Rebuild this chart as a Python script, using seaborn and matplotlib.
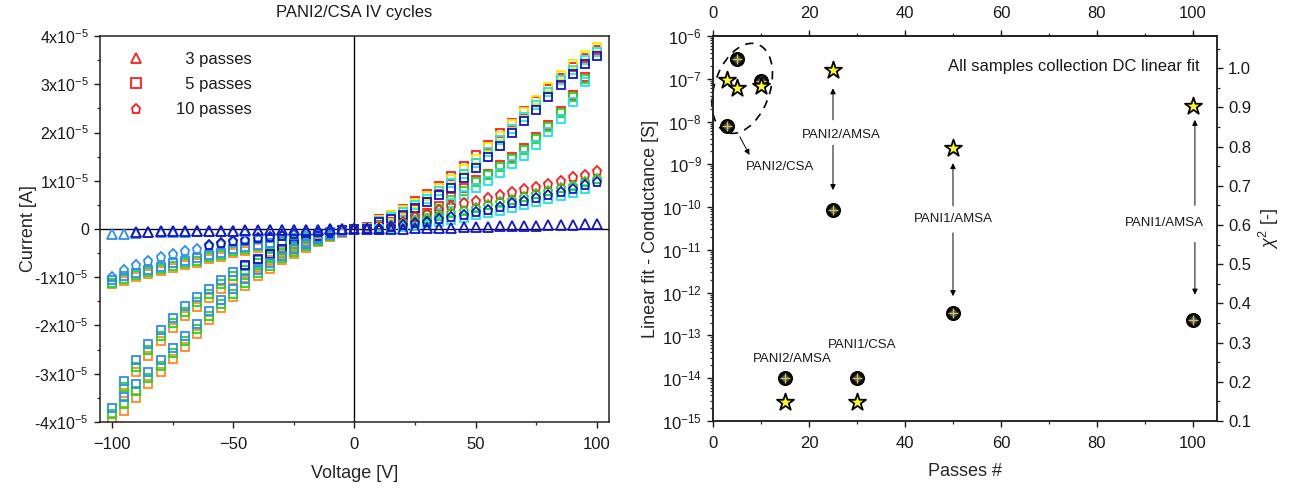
import matplotlib
matplotlib.use("Agg")
import matplotlib.pyplot as plt
import seaborn as sns
from matplotlib.lines import Line2D
from matplotlib.patches import Ellipse
from matplotlib.ticker import MultipleLocator, FuncFormatter, LogLocator, NullFormatter

# ---------------- left panel: PANI2/CSA IV cycles (current in 1e-5 A) ----------------
V_POS = [0, 5, 10, 15, 20, 25, 30, 35, 40, 45, 50, 55, 60, 65, 70, 75, 80, 85, 90, 95, 100]
V_RET = [10, 15, 20, 25, 30, 35, 40, 45, 50, 55, 60, 65, 70, 75, 80, 85, 90, 95]
V_NEG = [-100, -95, -90, -85, -80, -75, -70, -65, -60, -55, -50, -45, -40, -35, -30, -25, -20, -15, -10, -5]
V_NEG_RET = [-95, -90, -85, -80, -75, -70, -65, -60, -55, -50, -45, -40, -35, -30, -25, -20, -15, -10, -5]
V_NEG_60 = [-60, -55, -50, -45, -40, -35, -30, -25, -20, -15, -10, -5]
V_NEG_45 = [-45, -40, -35, -30, -25, -20, -15, -10, -5]
V_NEG_90 = [-90, -85, -80, -75, -70, -65, -60, -55, -50, -45, -40, -35, -30, -25, -20, -15, -10, -5]

# 5 passes, forward sweep 0 -> 100 V
sq_fwd_red = [0.0, 0.04, 0.21, 0.30, 0.42, 0.58, 0.73, 0.90, 1.10, 1.31, 1.53, 1.75, 1.98, 2.20, 2.44, 2.66, 2.91, 3.14, 3.36, 3.55, 3.72]
sq_fwd_yellow = [0.0, 0.03, 0.19, 0.28, 0.40, 0.54, 0.68, 0.85, 1.03, 1.24, 1.46, 1.70, 1.93, 2.17, 2.43, 2.68, 2.95, 3.19, 3.41, 3.61, 3.77]
sq_fwd_cyan = [0.0, 0.02, 0.17, 0.24, 0.35, 0.49, 0.62, 0.78, 0.95, 1.15, 1.37, 1.60, 1.84, 2.08, 2.33, 2.58, 2.84, 3.08, 3.30, 3.50, 3.66]
sq_fwd_blue = [0.0, 0.01, 0.15, 0.20, 0.30, 0.43, 0.55, 0.70, 0.86, 1.06, 1.27, 1.49, 1.73, 1.98, 2.24, 2.47, 2.74, 2.98, 3.21, 3.41, 3.59]
# 5 passes, return sweep 100 -> 0 V
sq_ret_red = [0.09, 0.14, 0.21, 0.27, 0.34, 0.47, 0.66, 0.84, 1.01, 1.15, 1.33, 1.50, 1.68, 1.90, 2.16, 2.44, 2.78, 3.16]
sq_ret_green = [0.07, 0.12, 0.18, 0.24, 0.30, 0.42, 0.61, 0.79, 0.97, 1.11, 1.29, 1.46, 1.64, 1.86, 2.12, 2.40, 2.73, 3.10]
sq_ret_cyan = [0.05, 0.09, 0.14, 0.18, 0.23, 0.34, 0.54, 0.70, 0.85, 0.99, 1.17, 1.34, 1.52, 1.74, 2.01, 2.29, 2.63, 3.05]
sq_low_cyan = [0.0, 0.02, 0.04, 0.07, 0.10, 0.14, 0.18, 0.23, 0.28, 0.33, 0.38, 0.44, 0.50, 0.56, 0.62, 0.68, 0.74, 0.82]
# 10 passes, positive side
pent_pos_red = [0.0, -0.01, -0.02, 0.06, 0.15, 0.24, 0.32, 0.40, 0.47, 0.53, 0.59, 0.65, 0.70, 0.76, 0.82, 0.88, 0.94, 0.99, 1.07, 1.12, 1.20]
pent_pos_green = [0.0, 0.0, 0.0, 0.05, 0.10, 0.16, 0.21, 0.27, 0.33, 0.38, 0.44, 0.49, 0.55, 0.61, 0.66, 0.73, 0.78, 0.84, 0.90, 0.97, 1.04]
pent_pos_blue = [0.0, 0.0, 0.01, 0.05, 0.08, 0.12, 0.15, 0.20, 0.25, 0.30, 0.35, 0.40, 0.46, 0.53, 0.58, 0.65, 0.70, 0.76, 0.82, 0.91, 0.98]
# 3 passes, positive side
tri_pos_blue = [0.0, 0.0, 0.0, 0.01, 0.01, 0.02, 0.02, 0.03, 0.03, 0.04, 0.05, 0.05, 0.06, 0.06, 0.07, 0.07, 0.08, 0.09, 0.09, 0.10, 0.11]

# 5 passes, negative side, first sweep 0 -> -100 V
sq_neg_orange = [-3.98, -3.40, -2.97, -2.63, -2.33, -2.06, -1.81, -1.61, -1.44, -1.24, -1.06, -0.92, -0.78, -0.65, -0.54, -0.44, -0.34, -0.25, -0.16, -0.08]
sq_neg_green = [-3.84, -3.28, -2.85, -2.51, -2.22, -1.95, -1.71, -1.51, -1.35, -1.15, -0.97, -0.84, -0.71, -0.59, -0.49, -0.40, -0.31, -0.22, -0.13, -0.06]
sq_neg_azure = [-3.70, -3.15, -2.72, -2.39, -2.10, -1.84, -1.60, -1.41, -1.25, -1.06, -0.89, -0.77, -0.65, -0.53, -0.44, -0.35, -0.27, -0.19, -0.11, -0.05]
sq_neg_blue = [-0.75, -0.63, -0.52, -0.42, -0.32, -0.21, -0.15, -0.08, -0.03]
# 5 passes, negative side, return sweep -100 -> 0 V
sq_nret_orange = [-3.77, -3.50, -3.22, -2.97, -2.70, -2.44, -2.17, -1.89, -1.64, -1.41, -1.18, -0.97, -0.82, -0.65, -0.51, -0.39, -0.27, -0.17, -0.08]
sq_nret_green = [-3.62, -3.36, -3.09, -2.84, -2.58, -2.33, -2.07, -1.80, -1.56, -1.34, -1.12, -0.91, -0.76, -0.60, -0.47, -0.36, -0.24, -0.15, -0.07]
sq_nret_azure = [-3.48, -3.22, -2.96, -2.72, -2.46, -2.22, -1.96, -1.70, -1.47, -1.25, -1.04, -0.84, -0.70, -0.55, -0.42, -0.32, -0.21, -0.13, -0.06]
# 5 passes, low-current cycles on the negative side
sq_nlow_orange = [-1.15, -1.08, -1.00, -0.93, -0.87, -0.80, -0.75, -0.70, -0.62, -0.57, -0.50, -0.46, -0.40, -0.35, -0.30, -0.25, -0.21, -0.17, -0.11, -0.06]
sq_nlow_green = [-1.11, -1.04, -0.96, -0.89, -0.83, -0.76, -0.71, -0.66, -0.58, -0.53, -0.46, -0.42, -0.36, -0.31, -0.27, -0.22, -0.18, -0.14, -0.09, -0.05]
sq_nlow_azure = [-1.06, -0.98, -0.91, -0.84, -0.78, -0.71, -0.66, -0.61, -0.54, -0.49, -0.42, -0.38, -0.33, -0.28, -0.24, -0.19, -0.15, -0.12, -0.07, -0.04]
# 10 passes, negative side
pent_neg_azure = [-0.99, -0.86, -0.75, -0.66, -0.58, -0.51, -0.46, -0.41, -0.36, -0.31, -0.27, -0.24, -0.21, -0.18, -0.15, -0.12, -0.09, -0.06, -0.04, -0.02]
pent_neg_blue = [-0.34, -0.29, -0.25, -0.22, -0.19, -0.16, -0.14, -0.11, -0.08, -0.06, -0.04, -0.02]
# 3 passes, negative side
tri_neg_azure = [-0.10, -0.10, -0.08, -0.07, -0.07, -0.06, -0.06, -0.05, -0.05, -0.05, -0.04, -0.04, -0.04, -0.03, -0.03, -0.03, -0.02, -0.02, -0.01, -0.01]
tri_neg_blue = [-0.06, -0.06, -0.05, -0.05, -0.05, -0.04, -0.04, -0.04, -0.04, -0.03, -0.03, -0.03, -0.03, -0.02, -0.02, -0.02, -0.01, -0.01]

LEGEND_LABELS = ["\u20073 passes", "\u20075 passes", "10 passes"]

# ---------------- right panel: all samples DC linear fit ----------------
PASSES = [3, 5, 10, 15, 25, 30, 50, 100]
CONDUCTANCE = [7.9e-9, 2.85e-7, 8.9e-8, 1.0e-14, 8.6e-11, 1.0e-14, 3.4e-13, 2.3e-13]
CHI2 = [0.971, 0.950, 0.954, 0.148, 0.995, 0.148, 0.796, 0.903]

RED, ORANGE, YELLOW, GREEN = "#ff1c1c", "#ff8a1e", "#f4ee00", "#20d820"
CYAN, AZURE, BLUE = "#20e4e4", "#2c8ef0", "#1414c8"
TXT = "#1a1a1a"

sns.set_style("ticks")
plt.rcParams["font.family"] = ["Liberation Sans", "DejaVu Sans"]
plt.rcParams["mathtext.fontset"] = "custom"
plt.rcParams["mathtext.rm"] = "Liberation Sans"
plt.rcParams["mathtext.it"] = "Liberation Sans:italic"
plt.rcParams["axes.linewidth"] = 1.1
plt.rcParams["text.color"] = TXT


def draw(ax, v, cur, marker, color, ms):
    sns.lineplot(x=v, y=cur, ax=ax, marker=marker, linestyle="", markersize=ms,
                 markerfacecolor="none", markeredgecolor=color, markeredgewidth=1.3,
                 color=color, estimator=None, sort=False, legend=False)


fig = plt.figure(figsize=(12.9, 4.9), dpi=100)
axl = fig.add_axes([0.0775, 0.1388, 0.3946, 0.7877])
axr = fig.add_axes([0.5527, 0.1408, 0.3907, 0.7857])

# layers drawn bottom-first so the last colour of each stack sits on top
SQ, PT, TR = 5.8, 6.8, 6.8
layers = [
    (V_NEG, sq_nlow_orange, "s", ORANGE, SQ), (V_NEG, sq_nlow_green, "s", GREEN, SQ),
    (V_NEG, sq_nlow_azure, "s", AZURE, SQ),
    (V_NEG, sq_neg_orange, "s", ORANGE, SQ), (V_NEG, sq_neg_green, "s", GREEN, SQ),
    (V_NEG, sq_neg_azure, "s", AZURE, SQ), (V_NEG_45, sq_neg_blue, "s", BLUE, SQ),
    (V_NEG_RET, sq_nret_orange, "s", ORANGE, SQ), (V_NEG_RET, sq_nret_green, "s", GREEN, SQ),
    (V_NEG_RET, sq_nret_azure, "s", AZURE, SQ),
    (V_NEG, pent_neg_azure, "p", AZURE, PT), (V_NEG_60, pent_neg_blue, "p", BLUE, PT),
    (V_NEG, tri_neg_azure, "^", AZURE, TR), (V_NEG_90, tri_neg_blue, "^", BLUE, TR),
    (V_RET, sq_ret_red, "s", RED, SQ), (V_RET, sq_ret_green, "s", GREEN, SQ),
    (V_RET, sq_ret_cyan, "s", CYAN, SQ),
    (V_POS, sq_fwd_red, "s", RED, SQ), (V_POS, sq_fwd_yellow, "s", YELLOW, SQ),
    (V_POS, sq_fwd_cyan, "s", CYAN, SQ), (V_POS, sq_fwd_blue, "s", BLUE, SQ),
    (V_RET, sq_low_cyan, "s", CYAN, SQ),
    (V_POS, pent_pos_red, "p", RED, PT), (V_POS, pent_pos_green, "p", GREEN, PT),
    (V_POS, pent_pos_blue, "p", BLUE, PT),
    (V_POS, tri_pos_blue, "^", BLUE, TR),
]
for v, cur, mk, col, ms in layers:
    draw(axl, v, cur, mk, col, ms)

axl.axhline(0, color="black", lw=1.0, zorder=1)
axl.axvline(0, color="black", lw=1.0, zorder=1)
axl.set_xlim(-105, 105)
axl.set_ylim(-4, 4)
axl.xaxis.set_major_locator(MultipleLocator(50))
axl.xaxis.set_minor_locator(MultipleLocator(25))
axl.yaxis.set_major_locator(MultipleLocator(1))
axl.yaxis.set_minor_locator(MultipleLocator(0.5))


def amp_fmt(val, pos):
    if abs(val) < 1e-9:
        return "0"
    return f"{int(round(val))}x10$^{{-5}}$"


axl.yaxis.set_major_formatter(FuncFormatter(amp_fmt))
axl.tick_params(which="major", length=4.5, width=1.0, labelsize=12, colors=TXT)
axl.tick_params(axis="x", which="major", pad=6)
axl.tick_params(axis="y", which="major", labelsize=11.5)
axl.tick_params(which="minor", length=2.5, width=0.9)
axl.set_xlabel("Voltage [V]", fontsize=13, labelpad=10)
axl.set_ylabel("Current [A]", fontsize=13, labelpad=-2)
axl.set_title("PANI2/CSA IV cycles", fontsize=12, pad=14)

handles = [Line2D([], [], linestyle="", marker=m, markersize=6.6, markerfacecolor="none",
                  markeredgecolor=RED, markeredgewidth=1.3) for m in ["^", "s", "p"]]
axl.legend(handles, LEGEND_LABELS, loc="upper left", bbox_to_anchor=(0.035, 0.985),
           frameon=False, fontsize=12, handlelength=1.0, handletextpad=1.9,
           labelspacing=0.62, borderaxespad=0.2)

# right panel: glossy black spheres with a yellow cross
sns.scatterplot(x=PASSES, y=CONDUCTANCE, ax=axr, marker="o", s=100, color="#0a0a0a",
                edgecolor="#000000", linewidth=0.8, zorder=3, legend=False)
sns.scatterplot(x=PASSES, y=CONDUCTANCE, ax=axr, marker="o", s=28, color="#6a6a6a",
                linewidth=0, alpha=0.7, zorder=3.5, legend=False)
sns.scatterplot(x=PASSES, y=CONDUCTANCE, ax=axr, marker="+", s=50, color="#cfc25a",
                linewidth=1.0, zorder=4, legend=False)
axr.set_yscale("log")
axr.set_xlim(0, 105)
axr.set_ylim(1e-15, 1e-6)
axr.xaxis.set_major_locator(MultipleLocator(20))
axr.xaxis.set_minor_locator(MultipleLocator(10))
axr.yaxis.set_major_locator(LogLocator(base=10, numticks=20))
axr.yaxis.set_minor_locator(LogLocator(base=10, subs=range(2, 10), numticks=20))
axr.yaxis.set_minor_formatter(NullFormatter())
axr.tick_params(which="major", length=4.5, width=1.0, labelsize=12, colors=TXT)
axr.tick_params(axis="x", which="major", pad=6)
axr.tick_params(which="minor", length=2.5, width=0.9)
axr.set_xlabel("Passes #", fontsize=13, labelpad=9)
axr.set_ylabel("Linear fit - Conductance [S]", fontsize=13, labelpad=2)

top = axr.secondary_xaxis("top")
top.xaxis.set_major_locator(MultipleLocator(20))
top.xaxis.set_minor_locator(MultipleLocator(10))
top.tick_params(which="major", length=4.5, width=1.0, labelsize=12, colors=TXT, pad=6)
top.tick_params(which="minor", length=2.5, width=0.9)
top.xaxis.offsetText.set_visible(False)

axc = axr.twinx()
sns.scatterplot(x=PASSES, y=CHI2, ax=axc, marker="*", s=165, color="#ffff1a",
                edgecolor="black", linewidth=1.3, zorder=5, legend=False)
axc.set_ylim(0.1, 1.082)
axc.yaxis.set_major_locator(MultipleLocator(0.1))
axc.yaxis.set_minor_locator(MultipleLocator(0.05))
axc.yaxis.set_major_formatter(FuncFormatter(lambda v, p: f"{v:.1f}"))
axc.yaxis.offsetText.set_visible(False)
axc.tick_params(which="major", length=4.5, width=1.0, labelsize=12, colors=TXT)
axc.tick_params(which="minor", length=2.5, width=0.9)
axc.set_ylabel(r"$\chi^2$ [-]", fontsize=13, labelpad=4)

axr.text(0.966, 0.922, "All samples collection DC linear fit", transform=axr.transAxes,
         ha="right", va="center", fontsize=12)

axr.add_patch(Ellipse((0.058, 0.864), 0.112, 0.238, angle=-12, transform=axr.transAxes,
                      fill=False, edgecolor="black", lw=1.2, linestyle=(0, (5, 4)),
                      clip_on=False, zorder=2))

arrow = dict(arrowstyle="-|>", color="black", lw=0.7, mutation_scale=8, shrinkA=0, shrinkB=0)
afs = 9.5
axr.annotate("", xy=(7.6, 1.66e-9), xytext=(5.6, 4.4e-9), arrowprops=arrow)
axr.text(14, 8.7e-10, "PANI2/CSA", ha="center", va="center", fontsize=afs)

axr.text(26.7, 4.9e-9, "PANI2/AMSA", ha="center", va="center", fontsize=afs)
axr.annotate("", xy=(25, 6.0e-8), xytext=(25, 1.1e-8), arrowprops=arrow)
axr.annotate("", xy=(25, 2.5e-10), xytext=(25, 2.8e-9), arrowprops=arrow)

axr.text(50, 5.2e-11, "PANI1/AMSA", ha="center", va="center", fontsize=afs)
axr.annotate("", xy=(50, 1.07e-9), xytext=(50, 1.07e-10), arrowprops=arrow)
axr.annotate("", xy=(50, 8.3e-13), xytext=(50, 2.5e-11), arrowprops=arrow)

axr.text(94, 4.3e-11, "PANI1/AMSA", ha="center", va="center", fontsize=afs)
axr.annotate("", xy=(100.4, 1.1e-8), xytext=(100.4, 1.1e-10), arrowprops=arrow)
axr.annotate("", xy=(100.4, 9e-13), xytext=(100.4, 1.5e-11), arrowprops=arrow)

axr.text(16.5, 2.8e-14, "PANI2/AMSA", ha="center", va="center", fontsize=afs)
axr.text(31, 6.0e-14, "PANI1/CSA", ha="center", va="center", fontsize=afs)

for a in (axl, axr, axc):
    for s in a.spines.values():
        s.set_visible(True)
        s.set_color("#222222")

fig.savefig("out.png", dpi=100)
